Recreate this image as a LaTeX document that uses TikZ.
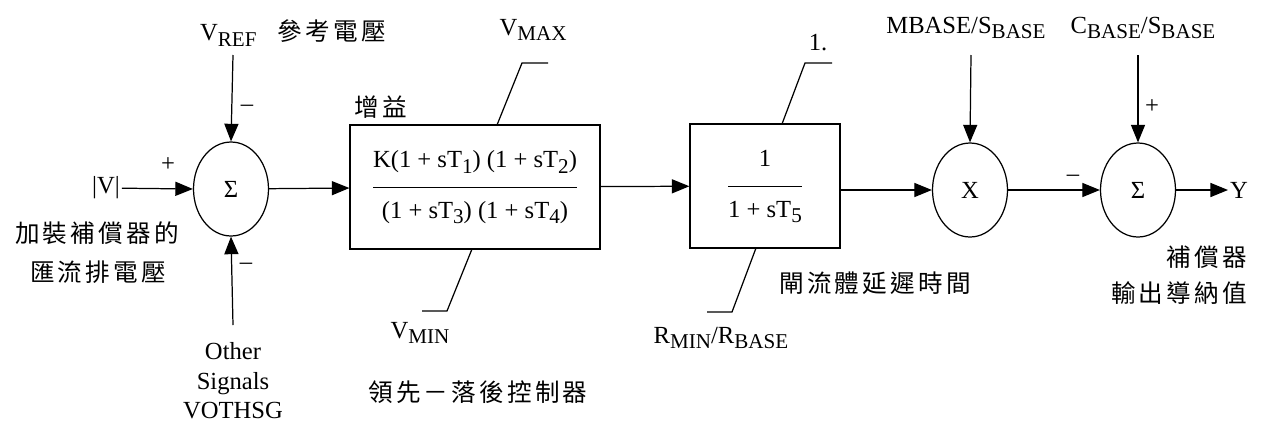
\documentclass[tikz,border=0pt]{standalone}
\usepackage{fontspec}
\setmainfont{Liberation Serif}
\newfontfamily\cjk[LetterSpace=13]{Noto Sans CJK TC}
\usetikzlibrary{arrows.meta,shapes.geometric}
\newcommand{\lowsub}[1]{\raisebox{-0.5ex}{\fontsize{12}{12}\selectfont #1}}
\newcommand{\zh}{\cjk\fontsize{14}{16}\selectfont}
\newcommand{\blockfrac}[2]{\begin{tabular}{@{}c@{}}#1\\[6pt]\hline\rule{0pt}{17pt}#2\end{tabular}}
\begin{document}
\begin{tikzpicture}[x=0.02cm, y=-0.02cm,
    every node/.style={font=\fontsize{14}{17}\selectfont, inner sep=1pt},
    junction/.style={draw, ellipse, minimum width=1.5cm, minimum height=1.88cm, inner sep=0pt, line width=0.7pt},
    tfblock/.style={draw, rectangle, minimum height=2.48cm, line width=0.7pt},
    sig/.style={line width=0.7pt, -{Triangle[length=10pt,width=8pt]}},
    lim/.style={line width=0.7pt},
    sign/.style={font=\fontsize{14}{14}\selectfont},
    zhtext/.style={font=\zh}]
    \useasboundingbox (0,0) rectangle (1265,430);

    % first summing point
    \node[junction] (sum1) at (231,189) {Σ};
    \node (vin) at (106,188) {|V|};
    \node[anchor=west] (vref) at (198,33) {V\lowsub{REF}\hspace{12pt}{\zh 參考電壓}};
    \coordinate (vrefend) at (233,55);
    \node[align=center, anchor=north] (other) at (233,340) {Other\\Signals\\VOTHSG};
    \coordinate (otherend) at (233,325);
    \draw[sig] (vin) -- (sum1.west);
    \draw[sig] (vrefend) -- (sum1.north);
    \draw[sig] (otherend) -- (sum1.south);
    \node[sign] (plus1) at (168,165) {+};
    \node[sign] (minus1) at (247,108) {–};
    \node[sign] (minus2) at (246,266) {–};
    \node[zhtext] (busa) at (97,233) {加裝補償器的};
    \node[zhtext] (busb) at (98,272) {匯流排電壓};

    % lead-lag block
    \node[tfblock, minimum width=5cm] (lead) at (475,187)
        {\blockfrac{K(1 + sT\lowsub{1}) (1 + sT\lowsub{2})}{(1 + sT\lowsub{3}) (1 + sT\lowsub{4})}};
    \node[zhtext] (gain) at (381,107) {增益};
    \draw[sig] (sum1) -- (lead);
    \draw[lim] (497,125) -- (522,63) -- (548,63);
    \node (vmax) at (533,30) {V\lowsub{MAX}};
    \draw[lim] (472,249) -- (447,311) -- (422,311);
    \node (vmin) at (420,333) {V\lowsub{MIN}};
    \node[zhtext] (leadlag) at (478,392) {領先－落後控制器};

    % thyristor delay block
    \node[tfblock, minimum width=3cm] (delay) at (765,186) {\blockfrac{1}{1 + sT\lowsub{5}}};
    \draw[sig] (lead) -- (delay);
    \draw[lim] (782,124) -- (805,63) -- (832,63);
    \node (upper) at (818,43) {1.};
    \draw[lim] (756,248) -- (732,312) -- (707,312);
    \node (rmin) at (721,338) {R\lowsub{MIN}/R\lowsub{BASE}};
    \node[zhtext] (thy) at (875,283) {閘流體延遲時間};

    % base conversion and output
    \node[junction] (mult) at (970,190) {X};
    \node[junction] (sum2) at (1138,190) {Σ};
    \draw[sig] (delay.east |- mult.west) -- (mult.west);
    \node (mbase) at (966,28) {MBASE/S\lowsub{BASE}};
    \coordinate (mbaseend) at (971,55);
    \draw[sig] (mbaseend) -- (mult.north);
    \node (cbase) at (1143,28) {C\lowsub{BASE}/S\lowsub{BASE}};
    \coordinate (cbaseend) at (1138,55);
    \draw[sig] (cbaseend) -- (sum2.north);
    \node[sign] (plus2) at (1152,107) {+};
    \draw[sig] (mult) -- (sum2);
    \node[sign] (minus3) at (1073,178) {–};
    \node[anchor=west] (yout) at (1228,190) {Y};
    \draw[sig] (sum2) -- (yout);
    \node[zhtext, anchor=east] (compa) at (1249,257) {補償器};
    \node[zhtext, anchor=east] (compb) at (1249,293) {輸出導納值};
\end{tikzpicture}
\end{document}
